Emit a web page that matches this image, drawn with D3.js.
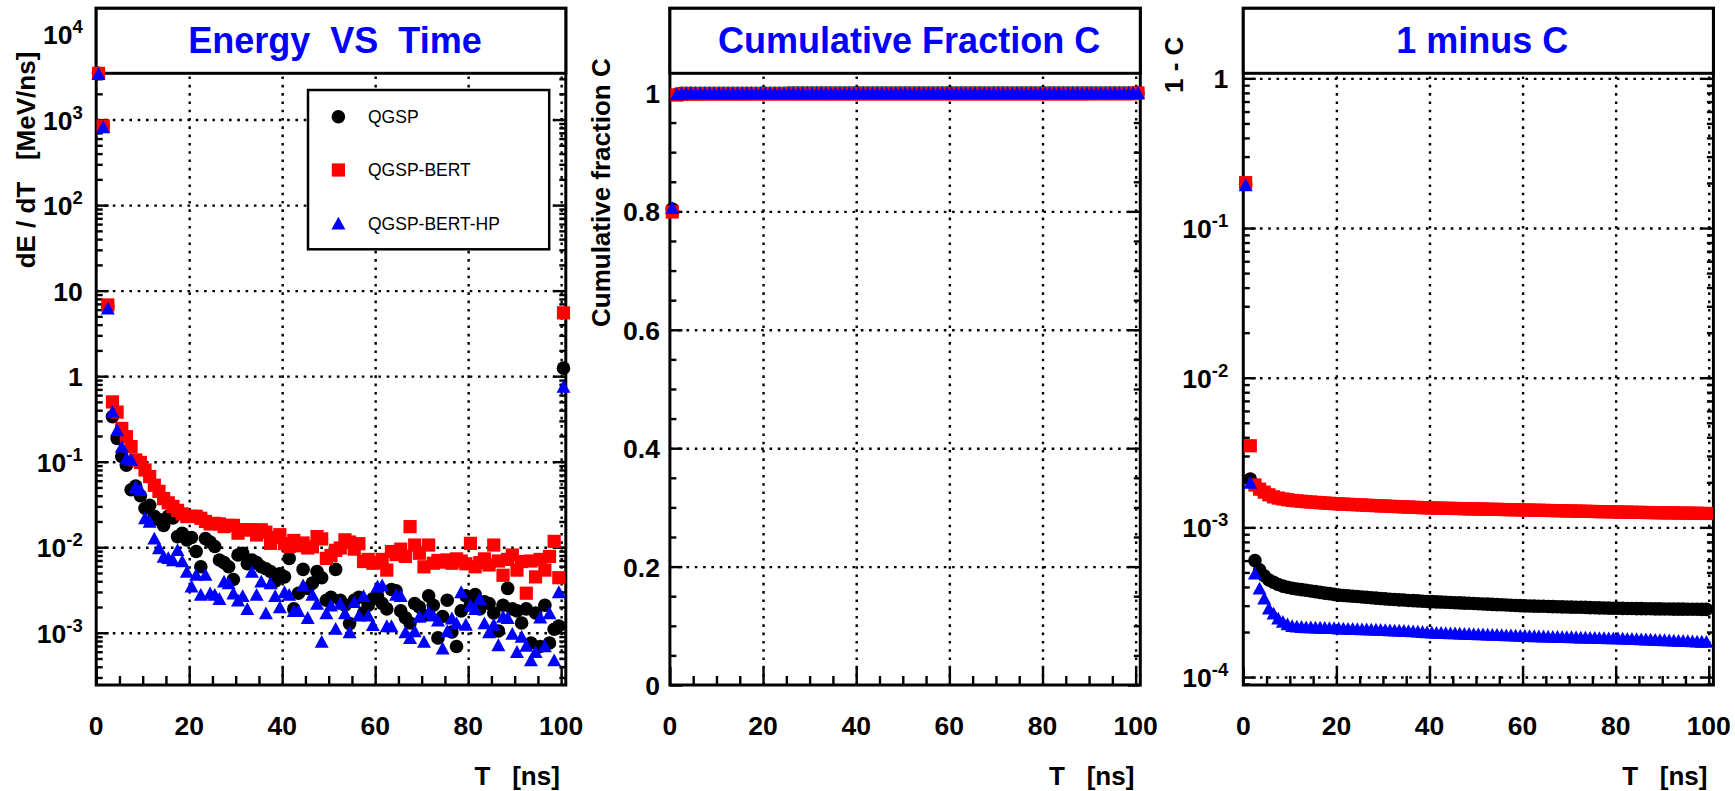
<!DOCTYPE html>
<html><head><meta charset="utf-8">
<script src="https://cdn.jsdelivr.net/npm/d3@7/dist/d3.min.js"></script>
<style>
body{margin:0;background:#fff}
svg text{font-family:"Liberation Sans",Arial,Helvetica,sans-serif;white-space:pre}
</style>
</head><body>
<svg id="c" width="1735" height="791"></svg>
<script>
// ---------------- DATA ----------------
const time = [0.5,1.5,2.5,3.5,4.5,5.5,6.5,7.5,8.5,9.5,10.5,11.5,12.5,13.5,14.5,15.5,16.5,17.5,18.5,19.5,
20.5,21.5,22.5,23.5,24.5,25.5,26.5,27.5,28.5,29.5,30.5,31.5,32.5,33.5,34.5,35.5,36.5,37.5,38.5,39.5,
40.5,41.5,42.5,43.5,44.5,45.5,46.5,47.5,48.5,49.5,50.5,51.5,52.5,53.5,54.5,55.5,56.5,57.5,58.5,59.5,
60.5,61.5,62.5,63.5,64.5,65.5,66.5,67.5,68.5,69.5,70.5,71.5,72.5,73.5,74.5,75.5,76.5,77.5,78.5,79.5,
80.5,81.5,82.5,83.5,84.5,85.5,86.5,87.5,88.5,89.5,90.5,91.5,92.5,93.5,94.5,95.5,96.5,97.5,98.5,99.5,100.5];

const seriesNames = ["QGSP","QGSP-BERT","QGSP-BERT-HP"];

// Panel 1 : dE/dT [MeV/ns]
const energyQGSP = [3480,845,6.5,0.336,0.187,0.115,0.091,0.047,0.052,0.040,
0.0285,0.031,0.023,0.021,0.018,0.023,0.022,0.0133,0.0145,0.0122,
0.013,0.0089,0.0059,0.0126,0.0115,0.0102,0.0071,0.0066,0.0059,0.0042,
0.0081,0.0085,0.0064,0.0071,0.0066,0.0059,0.0056,0.0052,0.004,0.0049,
0.0045,0.0074,0.0019,0.0029,0.0055,0.0033,0.0038,0.0052,0.0044,0.0024,
0.0026,0.0055,0.0024,0.0021,0.00128,0.0024,0.0026,0.0017,0.0021,0.0025,
0.0027,0.0022,0.0019,0.0032,0.0031,0.0018,0.0015,0.0013,0.0022,0.002,
0.0016,0.0027,0.0021,0.00087,0.00155,0.0024,0.00102,0.00069,0.0018,0.0027,
0.0021,0.0028,0.0019,0.0023,0.0022,0.0017,0.00105,0.0021,0.0033,0.0019,
0.0018,0.0013,0.0019,0.00076,0.0017,0.00069,0.0021,0.00076,0.0011,0.0012,
1.24];
const energyBERT = [3470,841,6.8,0.50,0.38,0.245,0.196,0.15,0.105,0.098,
0.080,0.067,0.053,0.045,0.037,0.033,0.030,0.027,0.0245,0.0228,
0.023,0.023,0.0218,0.020,0.0187,0.019,0.0187,0.0174,0.018,0.018,
0.0146,0.016,0.016,0.016,0.0139,0.016,0.015,0.0111,0.013,0.014,
0.011,0.0102,0.012,0.0104,0.0112,0.0098,0.0101,0.0133,0.0125,0.0074,
0.008,0.0092,0.0098,0.0122,0.0115,0.0095,0.011,0.0068,0.0072,0.0065,
0.0066,0.0072,0.0054,0.0089,0.0082,0.0095,0.0078,0.0174,0.0106,0.0085,
0.0059,0.0106,0.0065,0.007,0.0067,0.0071,0.0065,0.0073,0.0069,0.0064,
0.0111,0.0059,0.0066,0.0073,0.0062,0.0106,0.0069,0.0047,0.0072,0.0081,
0.0054,0.0068,0.0029,0.0069,0.0045,0.0072,0.0054,0.0078,0.0117,0.0044,
5.5];
const energyHP = [3420,820,6.2,0.385,0.235,0.15,0.11,0.105,0.051,0.047,
0.022,0.020,0.0127,0.0098,0.0078,0.0075,0.0071,0.0093,0.0069,0.0052,
0.0035,0.0048,0.0028,0.0048,0.0029,0.0028,0.0025,0.004,0.0038,0.0029,
0.0024,0.0027,0.0019,0.0052,0.0028,0.004,0.0017,0.0038,0.0027,0.002,
0.003,0.0028,0.0018,0.0018,0.0036,0.0015,0.0028,0.0022,0.00079,0.0017,
0.0021,0.00112,0.0022,0.0017,0.00102,0.0023,0.0016,0.0027,0.0016,0.00124,
0.0035,0.0036,0.0012,0.0012,0.0028,0.0027,0.00102,0.00087,0.00105,0.00155,
0.00079,0.00175,0.0016,0.0014,0.00066,0.00105,0.00148,0.0013,0.003,0.00125,
0.0021,0.0019,0.0025,0.0013,0.00102,0.00125,0.00072,0.00155,0.0015,0.00098,
0.0006,0.0009,0.00071,0.00048,0.0006,0.00152,0.0007,0.0017,0.00048,0.003,
0.754];

// Panel 2 : cumulative fraction C
const cumQGSP = [0.804,0.9979,0.9994,0.9995,0.9995,0.9996,0.9996,0.9996,0.9996,0.9996,
0.9996,0.9996,0.9996,0.9996,0.9996,0.9996,0.9996,0.9996,0.9996,0.9996,
0.9996,0.9996,0.9996,0.9996,0.9996,0.9997,0.9997,0.9997,0.9997,0.9997,
0.9997,0.9997,0.9997,0.9997,0.9997,0.9997,0.9997,0.9997,0.9997,0.9997,
0.9997,0.9997,0.9997,0.9997,0.9997,0.9997,0.9997,0.9997,0.9997,0.9997,
0.9997,0.9997,0.9997,0.9997,0.9997,0.9997,0.9997,0.9997,0.9997,0.9997,
0.9997,0.9997,0.9997,0.9997,0.9997,0.9997,0.9997,0.9997,0.9997,0.9997,
0.9997,0.9997,0.9997,0.9997,0.9997,0.9997,0.9997,0.9997,0.9997,0.9997,
0.9997,0.9997,0.9997,0.9997,0.9997,0.9997,0.9997,0.9997,0.9997,0.9997,
0.9997,0.9997,0.9997,0.9997,0.9997,0.9997,0.9997,0.9997,0.9997,0.9997,
1.0];
const cumBERT = [0.799,0.9965,0.9981,0.9982,0.9983,0.9983,0.9984,0.9984,0.9985,0.9985,
0.9985,0.9985,0.9985,0.9985,0.9985,0.9985,0.9985,0.9985,0.9986,0.9986,
0.9986,0.9986,0.9986,0.9986,0.9986,0.9986,0.9986,0.9986,0.9986,0.9986,
0.9986,0.9986,0.9986,0.9986,0.9986,0.9986,0.9986,0.9986,0.9986,0.9986,
0.9987,0.9987,0.9987,0.9987,0.9987,0.9987,0.9987,0.9987,0.9987,0.9987,
0.9987,0.9987,0.9987,0.9987,0.9987,0.9987,0.9987,0.9987,0.9987,0.9987,
0.9987,0.9987,0.9987,0.9987,0.9987,0.9987,0.9987,0.9987,0.9987,0.9987,
0.9987,0.9987,0.9987,0.9987,0.9987,0.9987,0.9987,0.9987,0.9987,0.9987,
0.9987,0.9987,0.9987,0.9987,0.9987,0.9987,0.9987,0.9987,0.9987,0.9987,
0.9987,0.9988,0.9988,0.9988,0.9988,0.9988,0.9988,0.9988,0.9988,0.9988,
1.0];
const cumHP = [0.806,0.9980,0.9995,0.9996,0.9997,0.9997,0.9997,0.9998,0.9998,0.9998,
0.9998,0.9998,0.9998,0.9998,0.9998,0.9998,0.9998,0.9998,0.9998,0.9998,
0.9998,0.9998,0.9998,0.9998,0.9998,0.9998,0.9998,0.9998,0.9998,0.9998,
0.9998,0.9998,0.9998,0.9998,0.9998,0.9998,0.9998,0.9998,0.9998,0.9998,
0.9998,0.9998,0.9998,0.9998,0.9998,0.9998,0.9998,0.9998,0.9998,0.9998,
0.9998,0.9998,0.9998,0.9998,0.9998,0.9998,0.9998,0.9998,0.9998,0.9998,
0.9998,0.9998,0.9998,0.9998,0.9998,0.9998,0.9998,0.9998,0.9998,0.9998,
0.9998,0.9998,0.9998,0.9998,0.9998,0.9998,0.9998,0.9998,0.9998,0.9998,
0.9998,0.9998,0.9998,0.9998,0.9998,0.9998,0.9998,0.9998,0.9998,0.9998,
0.9998,0.9998,0.9998,0.9998,0.9998,0.9998,0.9998,0.9998,0.9998,0.9998,
1.0];

// Panel 3 : 1 - C  (bins 0..99)
const omcQGSP = [0.196,2.1e-3,6.0e-4,5.2e-4,4.75e-4,4.46e-4,4.3e-4,4.15e-4,4.05e-4,3.98e-4,
3.92e-4,3.88e-4,3.84e-4,3.80e-4,3.76e-4,3.72e-4,3.68e-4,3.64e-4,3.61e-4,3.57e-4,
3.53e-4,3.51e-4,3.49e-4,3.47e-4,3.45e-4,3.43e-4,3.41e-4,3.39e-4,3.37e-4,3.35e-4,
3.33e-4,3.31e-4,3.30e-4,3.28e-4,3.27e-4,3.25e-4,3.24e-4,3.23e-4,3.21e-4,3.20e-4,
3.19e-4,3.18e-4,3.17e-4,3.16e-4,3.15e-4,3.14e-4,3.13e-4,3.12e-4,3.11e-4,3.10e-4,
3.09e-4,3.08e-4,3.07e-4,3.06e-4,3.05e-4,3.04e-4,3.03e-4,3.02e-4,3.01e-4,3.00e-4,
2.99e-4,2.985e-4,2.98e-4,2.975e-4,2.97e-4,2.96e-4,2.955e-4,2.95e-4,2.945e-4,2.94e-4,
2.935e-4,2.93e-4,2.925e-4,2.92e-4,2.91e-4,2.905e-4,2.90e-4,2.895e-4,2.89e-4,2.885e-4,
2.88e-4,2.877e-4,2.874e-4,2.871e-4,2.868e-4,2.865e-4,2.862e-4,2.859e-4,2.856e-4,2.853e-4,
2.85e-4,2.848e-4,2.846e-4,2.844e-4,2.842e-4,2.84e-4,2.838e-4,2.836e-4,2.834e-4,2.832e-4];
const omcBERT = [0.201,3.51e-3,1.92e-3,1.80e-3,1.72e-3,1.65e-3,1.60e-3,1.57e-3,1.55e-3,1.53e-3,
1.515e-3,1.505e-3,1.495e-3,1.485e-3,1.477e-3,1.47e-3,1.462e-3,1.455e-3,1.448e-3,1.442e-3,
1.436e-3,1.431e-3,1.426e-3,1.421e-3,1.416e-3,1.411e-3,1.406e-3,1.401e-3,1.397e-3,1.392e-3,
1.388e-3,1.384e-3,1.379e-3,1.375e-3,1.371e-3,1.367e-3,1.363e-3,1.359e-3,1.355e-3,1.351e-3,
1.347e-3,1.346e-3,1.344e-3,1.342e-3,1.340e-3,1.338e-3,1.336e-3,1.333e-3,1.331e-3,1.329e-3,
1.327e-3,1.325e-3,1.323e-3,1.321e-3,1.319e-3,1.317e-3,1.315e-3,1.313e-3,1.311e-3,1.309e-3,
1.307e-3,1.305e-3,1.303e-3,1.301e-3,1.299e-3,1.297e-3,1.295e-3,1.293e-3,1.291e-3,1.289e-3,
1.287e-3,1.285e-3,1.283e-3,1.281e-3,1.279e-3,1.277e-3,1.275e-3,1.273e-3,1.271e-3,1.269e-3,
1.267e-3,1.265e-3,1.264e-3,1.262e-3,1.260e-3,1.259e-3,1.257e-3,1.256e-3,1.254e-3,1.253e-3,
1.251e-3,1.250e-3,1.249e-3,1.247e-3,1.246e-3,1.245e-3,1.243e-3,1.242e-3,1.240e-3,1.239e-3];
const omcHP = [0.194,1.99e-3,4.93e-4,3.92e-4,3.36e-4,2.88e-4,2.67e-4,2.47e-4,2.35e-4,2.26e-4,
2.20e-4,2.18e-4,2.17e-4,2.16e-4,2.155e-4,2.15e-4,2.145e-4,2.14e-4,2.135e-4,2.13e-4,
2.12e-4,2.115e-4,2.11e-4,2.105e-4,2.10e-4,2.095e-4,2.09e-4,2.085e-4,2.08e-4,2.075e-4,
2.07e-4,2.06e-4,2.055e-4,2.05e-4,2.04e-4,2.035e-4,2.03e-4,2.02e-4,2.01e-4,2.00e-4,
1.99e-4,1.985e-4,1.98e-4,1.975e-4,1.97e-4,1.965e-4,1.96e-4,1.955e-4,1.95e-4,1.945e-4,
1.94e-4,1.935e-4,1.93e-4,1.925e-4,1.92e-4,1.915e-4,1.91e-4,1.905e-4,1.90e-4,1.895e-4,
1.89e-4,1.886e-4,1.882e-4,1.878e-4,1.875e-4,1.871e-4,1.867e-4,1.864e-4,1.860e-4,1.856e-4,
1.853e-4,1.849e-4,1.845e-4,1.842e-4,1.838e-4,1.835e-4,1.831e-4,1.828e-4,1.824e-4,1.821e-4,
1.82e-4,1.815e-4,1.81e-4,1.805e-4,1.80e-4,1.795e-4,1.79e-4,1.785e-4,1.78e-4,1.775e-4,
1.77e-4,1.765e-4,1.76e-4,1.755e-4,1.75e-4,1.745e-4,1.74e-4,1.735e-4,1.73e-4,1.725e-4];

// ticks
const xTickValues = [0,20,40,60,80,100];
const xTickLabels = ["0","20","40","60","80","100"];
const xMinorValues = [5,10,15,25,30,35,45,50,55,65,70,75,85,90,95];
const p1YTicks = [1e-3,1e-2,1e-1,1,10,100,1000,10000];
const p1YLabels = ["10^-3","10^-2","10^-1","1","10","10^2","10^3","10^4"];
const p2YTicks = [0,0.2,0.4,0.6,0.8,1];
const p2YLabels = ["0","0.2","0.4","0.6","0.8","1"];
const p2YMinor = [0.05,0.1,0.15,0.25,0.3,0.35,0.45,0.5,0.55,0.65,0.7,0.75,0.85,0.9,0.95,1.05,1.1];
const p3YTicks = [1e-4,1e-3,1e-2,1e-1,1];
const p3YLabels = ["10^-4","10^-3","10^-2","10^-1","1"];

const titles = ["Energy  VS  Time","Cumulative Fraction C","1 minus C"];
const yTitles = ["dE / dT   [MeV/ns]","Cumulative fraction C","1 - C"];
const xTitle = "T   [ns]";

// ---------------- STYLE / LAYOUT ----------------
const COLORS = ["#000000","#ff0000","#0000ff"];
const SHAPES = ["circle","square","triangle"];
const TOP = 8.3, BOTTOM = 685, TITLE_B = 73.3;
const FONT_LBL = 26.5;

const svg = d3.select("#c");

function logMinor(domain){
  const out=[]; const lo=Math.floor(Math.log10(domain[0])), hi=Math.ceil(Math.log10(domain[1]));
  for(let e=lo;e<=hi;e++) for(let k=2;k<=9;k++){const v=k*Math.pow(10,e); if(v>=domain[0]&&v<=domain[1]) out.push(v);}
  return out;
}

function marker(sel, shape, color, cx, cy){
  if(shape==="circle") sel.append("circle").attr("cx",cx).attr("cy",cy).attr("r",6.8).attr("fill",color);
  else if(shape==="square") sel.append("rect").attr("x",cx-6.6).attr("y",cy-6.6).attr("width",13.2).attr("height",13.2).attr("fill",color);
  else sel.append("path").attr("d",`M${cx-7},${cy+6.2}L${cx+7},${cy+6.2}L${cx},${cy-6.6}Z`).attr("fill",color);
}

function drawPanel(cfg){
  const g = svg.append("g");
  const x = d3.scaleLinear().domain([0,101]).range([cfg.left,cfg.right]);
  const y = cfg.y;
  const dot = s => s.attr("stroke","#000").attr("stroke-width",2.4).attr("stroke-dasharray","2.6,5.7");

  // grid
  const grid = g.append("g");
  grid.append("g").attr("transform",`translate(0,${BOTTOM})`)
    .call(d3.axisBottom(x).tickValues(xTickValues.filter(v=>v>0)).tickSize(-(BOTTOM-TITLE_B)).tickFormat(""))
    .call(s=>{s.select(".domain").remove(); s.selectAll("line").call(dot);});
  grid.append("g").attr("transform",`translate(${cfg.left},0)`)
    .call(d3.axisLeft(y).tickValues(cfg.yTicks.filter(v=>y(v)<BOTTOM-2)).tickSize(-(cfg.right-cfg.left)).tickFormat(""))
    .call(s=>{s.select(".domain").remove(); s.selectAll("line").call(dot);});

  // ticks
  const tk = (axis, tx, ty) => g.append("g").attr("transform",`translate(${tx},${ty})`).call(axis)
      .call(s=>{s.select(".domain").remove(); s.selectAll("line").attr("stroke","#000").attr("stroke-width",2.4);});
  tk(d3.axisBottom(x).tickValues(xTickValues).tickSize(-18).tickFormat(""),0,BOTTOM);
  tk(d3.axisBottom(x).tickValues(xMinorValues).tickSize(-9).tickFormat(""),0,BOTTOM);
  tk(d3.axisLeft(y).tickValues(cfg.yTicks).tickSize(-12.5).tickFormat(""),cfg.left,0);
  tk(d3.axisLeft(y).tickValues(cfg.yMinor).tickSize(-6.5).tickFormat(""),cfg.left,0);
  tk(d3.axisRight(y).tickValues(cfg.yTicks).tickSize(-12.5).tickFormat(""),cfg.right,0);
  tk(d3.axisRight(y).tickValues(cfg.yMinor).tickSize(-6.5).tickFormat(""),cfg.right,0);

  // title box + frame
  g.append("rect").attr("x",cfg.left).attr("y",TOP).attr("width",cfg.right-cfg.left).attr("height",BOTTOM-TOP)
    .attr("fill","none").attr("stroke","#000").attr("stroke-width",3);
  g.append("rect").attr("x",cfg.left).attr("y",TOP).attr("width",cfg.right-cfg.left).attr("height",TITLE_B-TOP)
    .attr("fill","#fff").attr("stroke","#000").attr("stroke-width",3);
  g.append("text").attr("x",(cfg.left+cfg.right)/2+4).attr("y",52.7).attr("text-anchor","middle")
    .attr("font-size",36).attr("font-weight","bold").attr("fill","#0000ff").text(cfg.title);

  // x labels
  g.selectAll(".xl").data(xTickValues).join("text").attr("class","xl")
    .attr("x",d=>x(d)).attr("y",735).attr("text-anchor","middle")
    .attr("font-size",FONT_LBL).attr("font-weight","bold").text((d,i)=>xTickLabels[i]);
  // y labels
  g.selectAll(".yl").data(cfg.yTicks).join("text").attr("class","yl")
    .attr("x",cfg.left-cfg.lblGap).attr("y",d=>y(d)+10).attr("text-anchor","end")
    .attr("font-size",FONT_LBL).attr("font-weight","bold")
    .each(function(d,i){
      const parts = cfg.yLabels[i].split("^");
      const t = d3.select(this);
      t.append("tspan").text(parts[0]);
      if(parts[1]) t.append("tspan").attr("font-size",18.5).attr("dy",-11).text(parts[1]);
    });
  // axis titles
  g.append("text").attr("transform",`translate(${cfg.ytX},${cfg.ytY}) rotate(-90)`).attr("text-anchor","end")
    .attr("font-size",26).attr("font-weight","bold").text(cfg.yTitle);
  g.append("text").attr("x",cfg.right-6).attr("y",785).attr("text-anchor","end")
    .attr("font-size",26).attr("font-weight","bold").text(xTitle);

  // markers
  cfg.series.forEach((vals,si)=>{
    const mg = g.append("g");
    vals.forEach((v,i)=>{ if(v>0) marker(mg, SHAPES[si], COLORS[si], x(time[i]), y(v)); });
  });
  return g;
}

drawPanel({left:96.2,right:565.8,
  y:d3.scaleLog().domain([Math.pow(10,-3.611),Math.pow(10,4.301)]).range([BOTTOM,TOP]),
  yTicks:p1YTicks,yLabels:p1YLabels,yMinor:logMinor([Math.pow(10,-3.611),Math.pow(10,4.301)]),
  lblGap:13.5,title:titles[0],yTitle:yTitles[0],ytX:35,ytY:51.7,
  series:[energyQGSP,energyBERT,energyHP]});

drawPanel({left:669.9,right:1140.3,
  y:d3.scaleLinear().domain([0,1.143]).range([BOTTOM,TOP]),
  yTicks:p2YTicks,yLabels:p2YLabels,yMinor:p2YMinor,
  lblGap:10,title:titles[1],yTitle:yTitles[1],ytX:609.5,ytY:58.3,
  series:[cumQGSP,cumBERT,cumHP]});

drawPanel({left:1243.3,right:1713.4,
  y:d3.scaleLog().domain([Math.pow(10,-4.053),Math.pow(10,0.468)]).range([BOTTOM,TOP]),
  yTicks:p3YTicks,yLabels:p3YLabels,yMinor:logMinor([Math.pow(10,-4.053),Math.pow(10,0.468)]),
  lblGap:15,title:titles[2],yTitle:yTitles[2],ytX:1182.5,ytY:36.7,
  series:[omcQGSP,omcBERT,omcHP]});

// legend (panel 1)
const lg = svg.append("g");
lg.append("rect").attr("x",308).attr("y",90).attr("width",241.2).attr("height",159.3)
  .attr("fill","#fff").attr("stroke","#000").attr("stroke-width",2.5);
const legendY = [116.7,170,223.3];
seriesNames.forEach((n,i)=>{
  marker(lg, SHAPES[i], COLORS[i], 338.4, legendY[i]);
  lg.append("text").attr("x",368).attr("y",legendY[i]+6.3).attr("font-size",17.5).text(n);
});
</script>
</body></html>
